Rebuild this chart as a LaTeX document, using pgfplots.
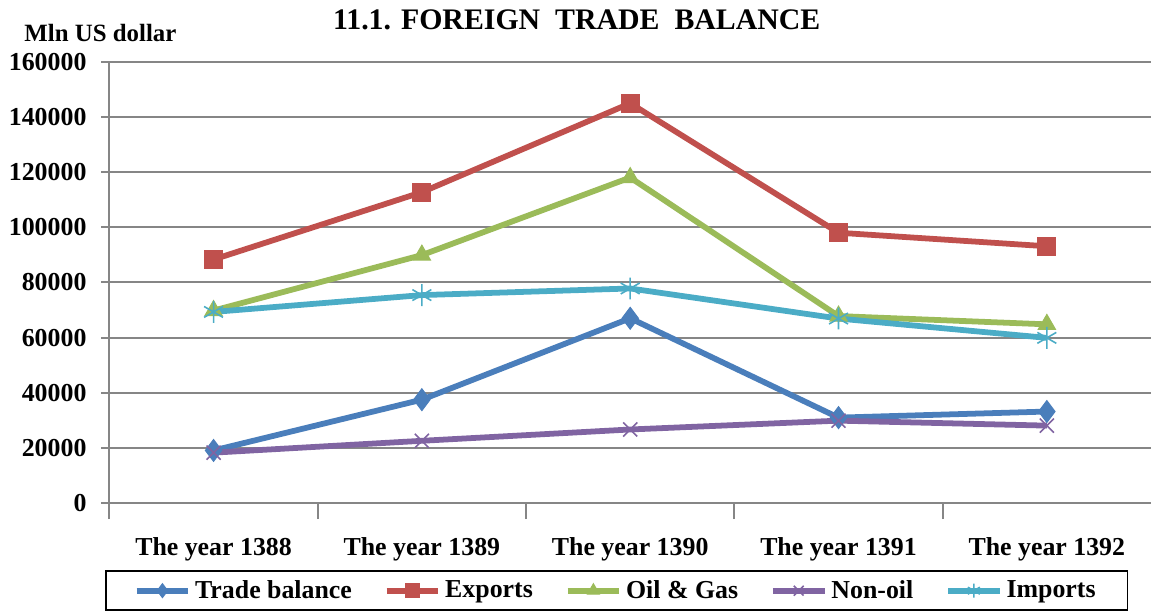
\documentclass[border=0pt]{standalone}
\usepackage{pgfplots}
\pgfplotsset{compat=1.18}
\usepackage{fontspec}
\setmainfont{Liberation Serif}
\definecolor{cTB}{HTML}{4A7EBB}
\definecolor{cEX}{HTML}{C0504D}
\definecolor{cOG}{HTML}{9BBB59}
\definecolor{cNO}{HTML}{8064A2}
\definecolor{cIM}{HTML}{4BACC6}
\definecolor{gridg}{RGB}{134,134,134}
\begin{document}
\begin{tikzpicture}
\pgfplotsset{
  legend image code/.code={
    \draw[mark repeat=2,mark phase=2,mark size=3.5pt] plot coordinates {(0pt,0pt)(13pt,0pt)(26pt,0pt)};
  }
}
\begin{axis}[
  at={(0pt,0pt)}, anchor=south west,
  scale only axis, width=523.75pt, height=222pt,
  xmin=-0.5, xmax=4.5, ymin=0, ymax=160000,
  axis lines=left, axis line style={gridg, line width=1pt, -},
  xtick={0,1,2,3,4},
  xticklabels={The year 1388,The year 1389,The year 1390,The year 1391,The year 1392},
  minor xtick={-0.5,0.5,1.5,2.5,3.5},
  major x tick style={draw=none},
  minor x tick style={gridg, line width=1pt},
  minor tick length=8pt,
  ytick={0,20000,...,160000},
  y tick style={gridg, line width=1pt},
  major tick length=4pt,
  tick align=outside,
  ymajorgrids, grid style={gridg, line width=1pt},
  scaled y ticks=false,
  yticklabel={\pgfmathprintnumber[fixed,precision=0,1000 sep={}]{\tick}},
  /pgf/number format/assume math mode=true,
  tick label style={font=\fontsize{13}{15}\selectfont\bfseries},
  xticklabel style={yshift=-10pt},
  yticklabel style={xshift=-4pt},
  clip=false,
  legend columns=5,
  legend style={at={(0.487,0)}, anchor=center, yshift=-44pt,
    draw=black, line width=0.8pt, font=\fontsize{13}{15}\selectfont\bfseries,
    /tikz/every even column/.append style={column sep=14pt},
    inner xsep=14pt, inner ysep=2.5pt},
  every axis plot/.append style={line width=2.9pt},
]
\addplot[cTB, mark=diamond*, mark size=5.5pt, mark options={solid,line width=0.5pt}] coordinates {(0,19100) (1,37500) (2,67000) (3,31000) (4,33200)};
\addlegendentry{Trade balance}
\addplot[cEX, mark=square*, mark size=4.5pt, mark options={line width=0.5pt}] coordinates {(0,88300) (1,112700) (2,144900) (3,98000) (4,93100)};
\addlegendentry{Exports}
\addplot[cOG, mark=triangle*, mark size=5pt, mark options={line width=0.5pt}] coordinates {(0,69800) (1,89900) (2,118000) (3,67800) (4,64800)};
\addlegendentry{Oil \& Gas}
\addplot[cNO, mark=x, mark size=5pt, mark options={line width=0.8pt}] coordinates {(0,18300) (1,22600) (2,26700) (3,29900) (4,28100)};
\addlegendentry{Non-oil}
\addplot[cIM, mark=asterisk, mark size=5.5pt, mark options={line width=0.8pt}] coordinates {(0,69300) (1,75400) (2,77800) (3,66900) (4,59900)};
\addlegendentry{Imports}
\end{axis}
\node[font=\fontsize{15}{17}\selectfont\bfseries] at (235pt,243pt) {11.1. FOREIGN\ \ TRADE\ \ BALANCE};
\node[font=\fontsize{12.5}{14}\selectfont\bfseries] at (-4.5pt,236.5pt) {Mln US dollar};
\path[use as bounding box] (-55pt,-52pt) rectangle (521pt,253pt);
\end{tikzpicture}
\end{document}
